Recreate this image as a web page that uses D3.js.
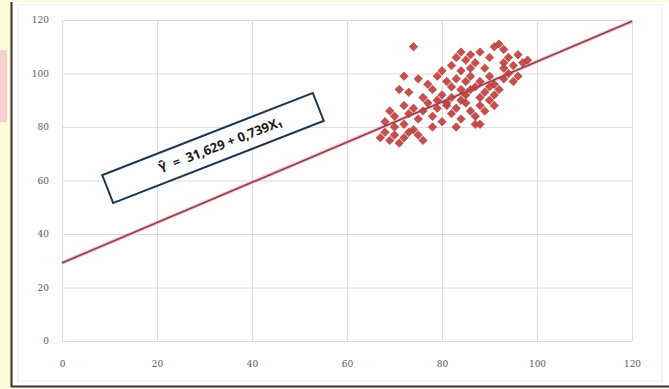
<!DOCTYPE html>
<html>
<head>
<meta charset="utf-8">
<script src="https://cdn.jsdelivr.net/npm/d3@7"></script>
<style>
  html, body { margin: 0; padding: 0; background: #fffbd6; }
  svg { display: block; }
</style>
</head>
<body>
<div id="chart"></div>
<script>
// scatter values (x = X1, y = Y)
const pointsX = [74, 80, 83, 84, 85, 86, 87, 88, 91, 92, 93, 94, 96, 97, 98, 95, 89, 86, 84, 82, 90, 93,
  72, 75, 71, 73, 77, 78, 79, 81, 82, 83, 84, 85, 86, 87, 88, 89, 90, 91, 92, 93, 94, 95, 96, 91, 88, 85, 82, 80, 76,
  69, 70, 72, 73, 74, 75, 76, 77, 78, 79, 80, 81, 82, 83, 84, 85, 86, 87, 88, 89, 90, 91, 87, 83, 78, 72, 70, 74,
  67, 68, 69, 70, 71, 72, 73, 75, 76, 68, 88, 84, 86, 81, 79, 93, 90];
const pointsY = [110, 101, 106, 108, 105, 107, 104, 108, 110, 111, 109, 106, 107, 104, 105, 103, 102, 102, 101, 103, 106, 104,
  99, 98, 94, 93, 96, 94, 99, 97, 95, 98, 94, 97, 99, 95, 97, 93, 99, 96, 94, 98, 100, 97, 99, 92, 91, 92, 91, 92, 91,
  86, 84, 88, 85, 87, 83, 86, 89, 84, 87, 82, 88, 85, 87, 83, 89, 86, 84, 88, 86, 90, 88, 81, 80, 80, 81, 80, 79,
  76, 78, 75, 77, 74, 76, 78, 77, 75, 82, 81, 90, 94, 89, 90, 102, 95];

// fitted line end points as drawn
const lineX = [0, 120];
const lineY = [29.2, 119.5];

const xTicks = [0, 20, 40, 60, 80, 100, 120];
const yTicks = [0, 20, 40, 60, 80, 100, 120];
const equation = "Ŷ  =  31,629 + 0,739X₁";

const W = 669, H = 389;
const margin = { top: 20, right: 37, bottom: 48, left: 62 };
const width = W - margin.left - margin.right;
const height = H - margin.top - margin.bottom;

const svg = d3.select('#chart').append('svg')
  .attr('width', W)
  .attr('height', H);

// page background bits
svg.append('rect').attr('x', 0).attr('y', 50).attr('width', 7).attr('height', 72).attr('fill', '#f6cfcf');
svg.append('rect').attr('x', 11).attr('y', 2).attr('width', W - 11).attr('height', 385).attr('fill', '#fff');
svg.append('rect').attr('x', 18).attr('y', 5).attr('width', 644).attr('height', 376)
  .attr('fill', 'none').attr('stroke', '#ececec');
svg.append('line').attr('x1', 11.5).attr('x2', 11.5).attr('y1', 2).attr('y2', 387)
  .attr('stroke', '#333').attr('stroke-width', 2);
svg.append('line').attr('x1', 11).attr('x2', W).attr('y1', 386.5).attr('y2', 386.5)
  .attr('stroke', '#333').attr('stroke-width', 2);

const g = svg.append('g').attr('transform', `translate(${margin.left},${margin.top})`);

const x = d3.scaleLinear().domain([0, 120]).range([0, width]);
const y = d3.scaleLinear().domain([0, 120]).range([height, 0]);

// grid
g.append('g')
  .attr('transform', `translate(0,${height})`)
  .call(d3.axisBottom(x).tickValues(xTicks).tickSize(-height).tickFormat(''))
  .call(a => a.select('.domain').remove())
  .call(a => a.selectAll('line').attr('stroke', '#dcdcdc'));

g.append('g')
  .call(d3.axisLeft(y).tickValues(yTicks).tickSize(-width).tickFormat(''))
  .call(a => a.select('.domain').remove())
  .call(a => a.selectAll('line').attr('stroke', '#dcdcdc'));

// tick labels
g.append('g')
  .attr('transform', `translate(0,${height})`)
  .call(d3.axisBottom(x).tickValues(xTicks).tickSize(0).tickPadding(20))
  .call(a => a.select('.domain').remove())
  .call(a => a.selectAll('text').attr('fill', '#595959')
    .style('font', '9px "DejaVu Serif", serif'));

g.append('g')
  .call(d3.axisLeft(y).tickValues(yTicks).tickSize(0).tickPadding(13))
  .call(a => a.select('.domain').remove())
  .call(a => a.selectAll('text').attr('fill', '#595959')
    .style('font', '9px "DejaVu Serif", serif'));

// regression line
const line = d3.line().x(d => x(d[0])).y(d => y(d[1]));
const lineData = d3.zip(lineX, lineY);
g.append('path').datum(lineData)
  .attr('d', line).attr('fill', 'none')
  .attr('stroke', '#eaa8b0').attr('stroke-width', 4).attr('opacity', 0.6);
g.append('path').datum(lineData)
  .attr('d', line).attr('fill', 'none')
  .attr('stroke', '#8e3b4c').attr('stroke-width', 1.6);

// points
const diamond = d3.symbol().type(d3.symbolSquare).size(36);
g.selectAll('path.pt')
  .data(d3.zip(pointsX, pointsY))
  .enter()
  .append('path')
  .attr('class', 'pt')
  .attr('d', diamond)
  .attr('transform', d => `translate(${x(d[0])},${y(d[1])}) rotate(45)`)
  .attr('fill', '#c43f3c')
  .attr('stroke', '#a83538')
  .attr('stroke-width', 0.6)
  .attr('opacity', 0.92);

// equation box
const box = svg.append('g').attr('transform', 'translate(213,148) rotate(-21.3)');
box.append('rect')
  .attr('x', -113).attr('y', -15).attr('width', 226).attr('height', 30)
  .attr('fill', '#fff').attr('stroke', '#1f3550').attr('stroke-width', 2);
box.append('text')
  .attr('x', 8)
  .attr('text-anchor', 'middle').attr('dy', '0.35em')
  .attr('fill', '#1a1a1a')
  .style('font', 'bold 13px "Open Sans", sans-serif')
  .style('white-space', 'pre')
  .text(equation);
</script>
</body>
</html>
